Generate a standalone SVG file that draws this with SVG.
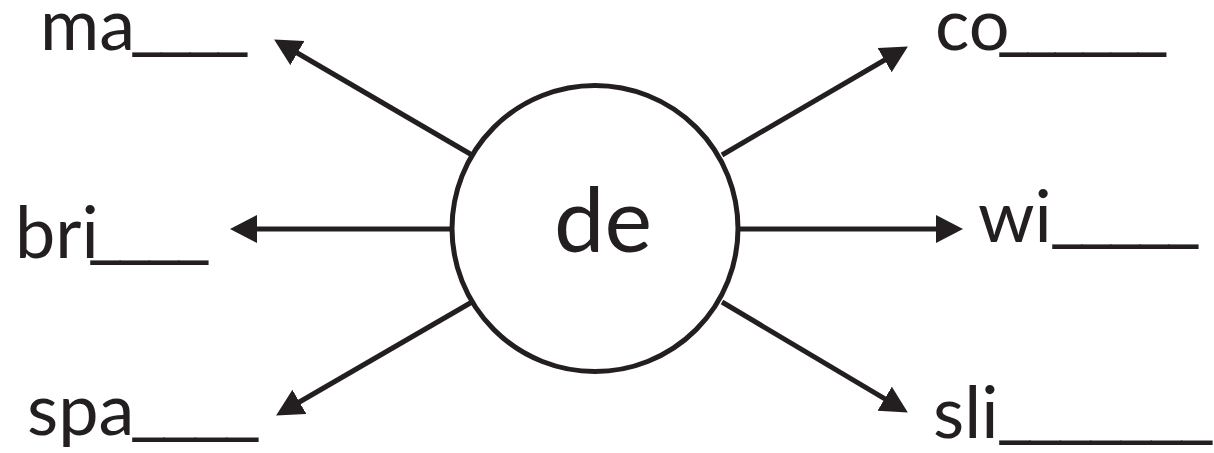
<svg xmlns="http://www.w3.org/2000/svg" width="1214" height="453" viewBox="0 0 1214 453">
<style>
.lbl{font-family:Lato,"Noto Sans",sans-serif;font-size:72px;fill:#231f20}
.us{font-family:"Liberation Sans",sans-serif}
.cn{stroke:#231f20;stroke-width:5;fill:none}
</style>
<defs>
<marker id="ah" markerUnits="userSpaceOnUse" markerWidth="28" markerHeight="30" refX="16" refY="14" orient="auto" viewBox="0 0 28 30">
<path d="M0,0 L27,14 L0,28 z" fill="#231f20"/>
</marker>
</defs>
<rect width="1214" height="453" fill="#fff"/>
<g id="connectors">
<line class="cn" x1="472" y1="155" x2="283.6" y2="45" marker-end="url(#ah)"/>
<line class="cn" x1="722" y1="155" x2="898.4" y2="52" marker-end="url(#ah)"/>
<line class="cn" x1="452" y1="229" x2="241" y2="229" marker-end="url(#ah)"/>
<line class="cn" x1="738" y1="229" x2="952" y2="229" marker-end="url(#ah)"/>
<line class="cn" x1="472" y1="302" x2="285.6" y2="410" marker-end="url(#ah)"/>
<line class="cn" x1="722" y1="302" x2="898.4" y2="406.9" marker-end="url(#ah)"/>
</g>
<g id="center">
<circle cx="595" cy="228.5" r="143" fill="#fff" stroke="#231f20" stroke-width="5"/>
<text x="603" y="252" text-anchor="middle" class="lbl" style="font-size:90px">de</text>
</g>
<g id="n-ma"><text class="lbl" x="40" y="50">ma<tspan class="us" x="133" dy="-7" textLength="114" lengthAdjust="spacingAndGlyphs">____</tspan></text></g>
<g id="n-co"><text class="lbl" x="935" y="50">co<tspan class="us" x="1000" dy="-7" textLength="166" lengthAdjust="spacingAndGlyphs">______</tspan></text></g>
<g id="n-bri"><text class="lbl" x="15" y="258">bri<tspan class="us" x="91" dy="-7" textLength="117" lengthAdjust="spacingAndGlyphs">____</tspan></text></g>
<g id="n-wi"><text class="lbl" x="978" y="242">wi<tspan class="us" x="1053" dy="-7" textLength="145" lengthAdjust="spacingAndGlyphs">_____</tspan></text></g>
<g id="n-spa"><text class="lbl" x="27" y="435">spa<tspan class="us" x="133" dy="-7" textLength="125" lengthAdjust="spacingAndGlyphs">____</tspan></text></g>
<g id="n-sli"><text class="lbl" x="933" y="438">sli<tspan class="us" x="1000" dy="-7" textLength="212" lengthAdjust="spacingAndGlyphs">_______</tspan></text></g>
</svg>
